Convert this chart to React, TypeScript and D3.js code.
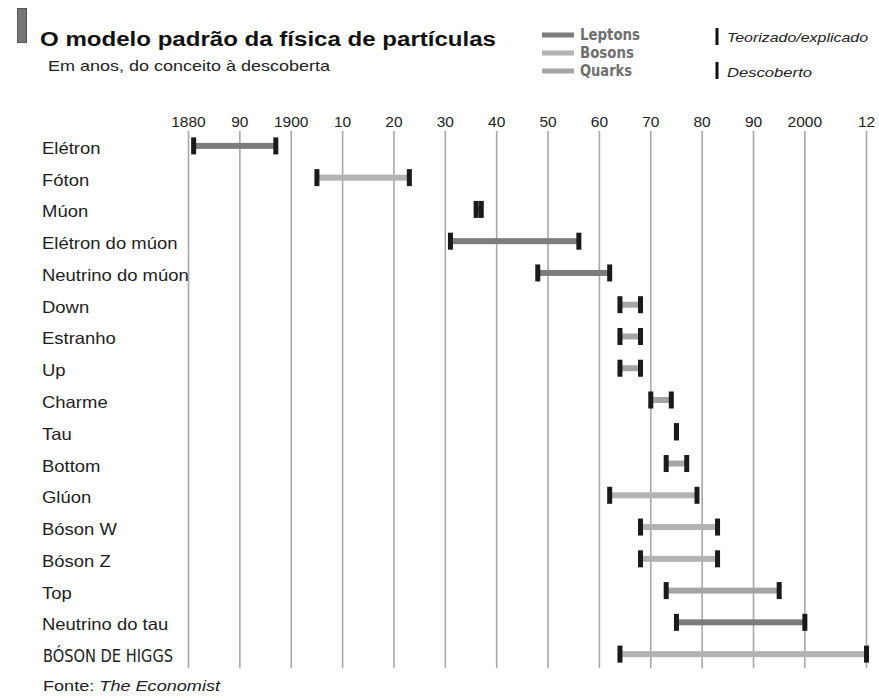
import React from 'react';
import * as d3 from 'd3';

// particles, top to bottom
const particles = [
  'Elétron', 'Fóton', 'Múon', 'Elétron do múon', 'Neutrino do múon', 'Down',
  'Estranho', 'Up', 'Charme', 'Tau', 'Bottom', 'Glúon', 'Bóson W', 'Bóson Z',
  'Top', 'Neutrino do tau', 'BÓSON DE HIGGS',
];
// year theorized / explained
const conceived = [1881, 1905, 1936, 1931, 1948, 1964, 1964, 1964, 1970, 1975, 1973, 1962, 1968, 1968, 1973, 1975, 1964];
// year discovered
const discovered = [1897, 1923, 1937, 1956, 1962, 1968, 1968, 1968, 1974, 1975, 1977, 1979, 1983, 1983, 1995, 2000, 2012];
const families = [
  'Leptons', 'Bosons', 'Leptons', 'Leptons', 'Leptons', 'Quarks', 'Quarks', 'Quarks',
  'Quarks', 'Leptons', 'Quarks', 'Bosons', 'Bosons', 'Bosons', 'Quarks', 'Leptons', 'Bosons',
];

const tickYears = [1880, 1890, 1900, 1910, 1920, 1930, 1940, 1950, 1960, 1970, 1980, 1990, 2000, 2012];
const tickLabels = ['1880', '90', '1900', '10', '20', '30', '40', '50', '60', '70', '80', '90', '2000', '12'];

const familyNames = ['Leptons', 'Bosons', 'Quarks'];
const familyColors = ['#7c7c7c', '#b3b3b3', '#a5a5a5'];

const W = 879;
const H = 696;
const SANS = 'Arial, "Liberation Sans", sans-serif';
const NARROW = '"Liberation Sans Narrow", "Arial Narrow", "DejaVu Sans Condensed", sans-serif';

export default function App() {
  const x = d3.scaleLinear().domain([1880, 2012]).range([188.5, 866.5]);
  const y = d3.scaleBand<string>().domain(particles).range([132, 672]);
  const color = d3.scaleOrdinal<string, string>().domain(familyNames).range(familyColors);

  const rows = particles.map((name, i) => ({
    name,
    start: conceived[i],
    end: discovered[i],
    family: families[i],
  }));

  const capW = 5;
  const capH = 17;
  const barH = 6;

  return (
    <svg width={W} height={H} style={{ position: 'absolute', left: 0, top: 0, background: '#fff' }}>
      <rect width={W} height={H} fill="#fff" />

      {/* header */}
      <rect x={17.5} y={8.5} width={9} height={34} fill="#777" stroke="#555" strokeWidth={1} />
      <text x={40} y={46} fontFamily={SANS} fontWeight="bold" fontSize={20} fill="#111"
        textLength={456} lengthAdjust="spacingAndGlyphs">
        O modelo padrão da física de partículas
      </text>
      <text x={48} y={71} fontFamily={SANS} fontSize={14.5} fill="#222"
        textLength={282} lengthAdjust="spacingAndGlyphs">
        Em anos, do conceito à descoberta
      </text>

      {/* legend: families */}
      {familyNames.map((f, i) => (
        <g key={f} transform={`translate(0, ${35 + i * 18})`}>
          <rect x={542} y={-2.5} width={32} height={5} fill={color(f)} />
          <text x={580} y={5} fontFamily={NARROW} fontWeight="bold" fontSize={15} fill="#6e6e6e"
            textLength={f === 'Leptons' ? 60 : f === 'Bosons' ? 54 : 52} lengthAdjust="spacingAndGlyphs">
            {f}
          </text>
        </g>
      ))}

      {/* legend: markers */}
      <rect x={715.5} y={28} width={3} height={17} fill="#111" />
      <text x={727} y={42} fontFamily={SANS} fontStyle="italic" fontSize={13.5} fill="#222"
        textLength={141} lengthAdjust="spacingAndGlyphs">Teorizado/explicado</text>
      <rect x={715.5} y={62} width={3} height={17} fill="#111" />
      <text x={727} y={77} fontFamily={SANS} fontStyle="italic" fontSize={13.5} fill="#222"
        textLength={85} lengthAdjust="spacingAndGlyphs">Descoberto</text>

      {/* axis labels + grid */}
      {tickYears.map((t, i) => (
        <g key={t}>
          <text x={x(t)} y={127} textAnchor="middle" fontFamily={SANS} fontSize={15.5} fill="#222">
            {tickLabels[i]}
          </text>
          <line x1={x(t)} x2={x(t)} y1={131} y2={668} stroke="#a8a8a8" strokeWidth={1.6} />
        </g>
      ))}

      {/* row labels */}
      {rows.map((r) => {
        const cy = (y(r.name) ?? 0) + y.bandwidth() / 2;
        const higgs = r.name === 'BÓSON DE HIGGS';
        return higgs ? (
          <text key={r.name} x={43} y={cy + 6} fontFamily={NARROW} fontSize={17} fill="#222"
            textLength={130} lengthAdjust="spacingAndGlyphs">{r.name}</text>
        ) : (
          <text key={r.name} transform={`translate(42, ${cy + 6}) scale(1.12, 1)`}
            fontFamily={SANS} fontSize={16.5} fill="#1e1e1e">{r.name}</text>
        );
      })}

      {/* bars */}
      {rows.map((r) => {
        const cy = (y(r.name) ?? 0) + y.bandwidth() / 2 - 2;
        const x0 = x(r.start);
        const x1 = x(r.end);
        return (
          <g key={r.name}>
            {x1 > x0 && (
              <rect x={x0} y={cy - barH / 2} width={x1 - x0} height={barH} fill={color(r.family)} />
            )}
            <rect x={x0 - capW / 2} y={cy - capH / 2} width={capW} height={capH} fill="#1a1a1a" />
            <rect x={x1 - capW / 2} y={cy - capH / 2} width={capW} height={capH} fill="#1a1a1a" />
          </g>
        );
      })}

      {/* source */}
      <text x={43} y={691} fontFamily={SANS} fontSize={15} fill="#222"
        textLength={177} lengthAdjust="spacingAndGlyphs">
        Fonte: <tspan fontStyle="italic">The Economist</tspan>
      </text>
    </svg>
  );
}
